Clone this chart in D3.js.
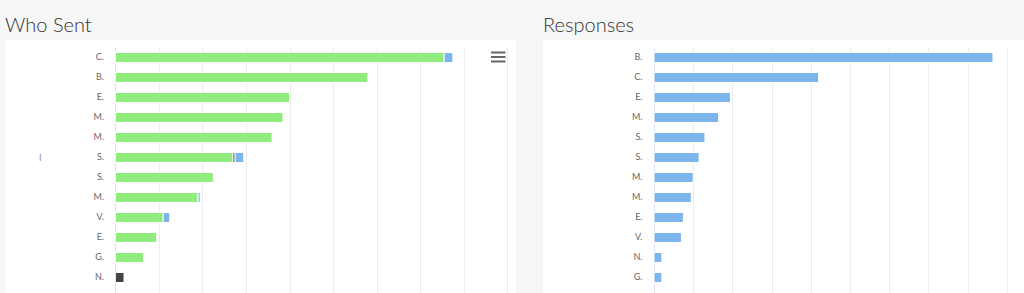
<!DOCTYPE html>
<html><head><meta charset="utf-8">
<script src="https://cdn.jsdelivr.net/npm/d3@7"></script>
<style>
html,body{margin:0;padding:0;background:#f7f7f7;}
svg{display:block;font-family:Lato,"Open Sans",sans-serif;}
</style></head>
<body>
<svg id="c" width="1024" height="293"></svg>
<script>
// Who Sent (stacked): green, dark, blue
const sentCategories = ["C.","B.","E.","M.","M.","S.","S.","M.","V.","E.","G.","N."];
const sentGreen = [151,116,80,77,72,54,45,38,22,19,13,0];
const sentDark  = [0,0,0,0,0,1,0,0,0,0,0,4];
const sentBlue  = [4,0,0,0,0,4,0,1,3,0,0,0];
// Responses
const respCategories = ["B.","C.","E.","M.","S.","S.","M.","M.","E.","V.","N.","G."];
const respValues = [173,84,39,33,26,23,20,19,15,14,4,4];
const xTicks = [0,20,40,60,80,100,120,140,160,180];
const titles = ["Who Sent","Responses"];

const svg = d3.select("#c");
const colors = {green:"#90ed7d", dark:"#434348", blue:"#7cb5ec"};

function panel(opts){
  const g = svg.append("g");
  g.append("rect").attr("x",opts.px).attr("y",40).attr("width",opts.pw).attr("height",260).attr("fill","#fff");
  g.append("text").attr("x",opts.px).attr("y",32).text(opts.title)
    .attr("font-size",20).attr("fill","#333").attr("font-weight",300);
  const x = d3.scaleLinear().domain([0,180]).range([opts.x0,opts.x1]);
  const y = d3.scaleBand().domain(d3.range(opts.cats.length)).range([47.5,287.5]).paddingInner(0.5).paddingOuter(0.25);
  // grid
  g.append("g").selectAll("line").data(xTicks.slice(1)).join("line")
    .attr("x1",d=>Math.round(x(d))+0.5).attr("x2",d=>Math.round(x(d))+0.5)
    .attr("y1",48).attr("y2",293).attr("stroke","#ececec").attr("stroke-width",1);
  // axis line
  g.append("line").attr("x1",Math.round(x(0))+0.5).attr("x2",Math.round(x(0))+0.5)
    .attr("y1",48).attr("y2",293).attr("stroke","#dde3ee");
  // labels via axis
  const ya = d3.axisLeft(y).tickFormat(i=>opts.cats[i]).tickSize(0).tickPadding(0);
  const ag = g.append("g").attr("transform",`translate(${opts.labelX},0)`).call(ya);
  ag.select(".domain").remove();
  ag.selectAll("text").attr("font-size",9).attr("fill","#666").attr("font-family","Lato, 'Open Sans', sans-serif");
  // bars
  opts.series.forEach(s=>{
    g.append("g").selectAll("rect").data(s.vals.map((v,i)=>({v,i,start:s.start[i]}))).filter?0:0;
  });
  opts.series.forEach(s=>{
    g.append("g").selectAll("rect").data(s.vals.map((v,i)=>({v,i,start:s.start[i]})).filter(d=>d.v>0)).join("rect")
      .attr("x",d=>x(d.start)).attr("width",d=>x(d.start+d.v)-x(d.start))
      .attr("y",d=>y(d.i)).attr("height",y.bandwidth())
      .attr("fill",s.color).attr("stroke","#fff").attr("stroke-width",1);
  });
  return g;
}

const zeros = sentGreen.map(()=>0);
const darkStart = sentGreen.slice();
const blueStart = sentGreen.map((v,i)=>v+sentDark[i]);
const left = panel({px:5,pw:511,title:titles[0],x0:115.3,x1:507.3,labelX:104,cats:sentCategories,
  series:[{vals:sentGreen,start:zeros,color:colors.green},{vals:sentDark,start:darkStart,color:colors.dark},{vals:sentBlue,start:blueStart,color:colors.blue}]});
left.append("text").attr("x",39).attr("y",160.5).text("I").attr("font-size",9).attr("fill","#888");
// menu icon
[52.5,57,61.5].forEach(yy=>{
  left.append("line").attr("x1",491).attr("x2",505.5).attr("y1",yy).attr("y2",yy).attr("stroke","#666").attr("stroke-width",2);
});
panel({px:543,pw:481,title:titles[1],x0:654,x1:1006.7,labelX:642.5,cats:respCategories,
  series:[{vals:respValues,start:respValues.map(()=>0),color:colors.blue}]});
</script>
</body></html>
